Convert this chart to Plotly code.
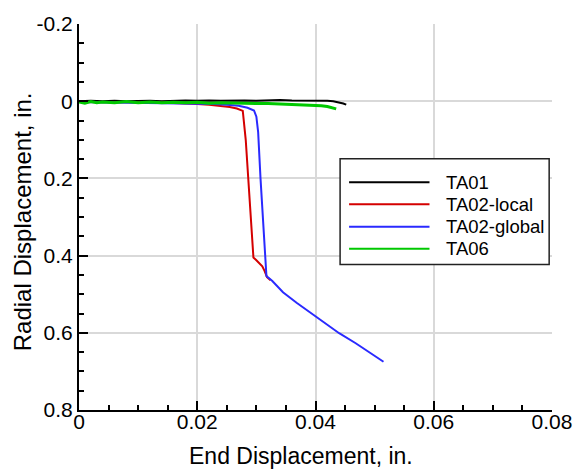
import plotly.graph_objects as go

# End displacement (in.) vs radial displacement (in.) for each test
ta01_x = [0.0, 0.002, 0.004, 0.006, 0.008, 0.010, 0.012, 0.014, 0.016, 0.018, 0.020,
          0.022, 0.024, 0.026, 0.028, 0.030, 0.032, 0.034, 0.036, 0.038, 0.040,
          0.042, 0.043, 0.044, 0.0447, 0.0452]
ta01_y = [0.0, -0.001, 0.0, -0.001, 0.0, -0.001, -0.001, 0.0, -0.001, -0.002, -0.001,
          -0.002, -0.001, -0.002, -0.002, -0.001, -0.002, -0.003, -0.002, -0.002, -0.002,
          -0.001, 0.0, 0.003, 0.006, 0.009]

ta02_local_x = [0.0, 0.005, 0.010, 0.015, 0.018, 0.020, 0.022, 0.024, 0.0255, 0.0267, 0.0277,
                0.0282, 0.0287, 0.0292, 0.0295, 0.0300, 0.0305, 0.0310, 0.0314, 0.0318, 0.0324]
ta02_local_y = [0.002, 0.002, 0.003, 0.004, 0.005, 0.007, 0.009, 0.012, 0.015, 0.019, 0.025,
                0.10, 0.22, 0.34, 0.405, 0.412, 0.420, 0.428, 0.440, 0.456, 0.464]

ta02_global_x = [0.0, 0.005, 0.010, 0.015, 0.020, 0.023, 0.025, 0.027, 0.0285, 0.0296,
                 0.0300, 0.0303, 0.0307, 0.0312, 0.0317, 0.0327, 0.0345, 0.0368, 0.0398,
                 0.0420, 0.0440, 0.0468, 0.0490, 0.0515]
ta02_global_y = [0.002, 0.003, 0.004, 0.004, 0.005, 0.007, 0.009, 0.012, 0.017, 0.024,
                 0.040, 0.080, 0.200, 0.340, 0.453, 0.466, 0.495, 0.522, 0.555,
                 0.578, 0.601, 0.627, 0.650, 0.675]

ta06_x = [0.0, 0.001, 0.002, 0.003, 0.004, 0.006, 0.008, 0.010, 0.012, 0.014, 0.016, 0.018,
          0.020, 0.022, 0.024, 0.026, 0.028, 0.030, 0.032, 0.034, 0.036, 0.038, 0.040,
          0.041, 0.042, 0.043, 0.0435]
ta06_y = [0.002, 0.005, 0.001, 0.004, 0.002, 0.004, 0.001, 0.004, 0.002, 0.004, 0.003, 0.004,
          0.003, 0.005, 0.004, 0.005, 0.005, 0.006, 0.006, 0.007, 0.008, 0.009, 0.011,
          0.012, 0.014, 0.017, 0.020]

series = [
    ("TA01", ta01_x, ta01_y, "#000000", 2),
    ("TA02-local", ta02_local_x, ta02_local_y, "#d40000", 2),
    ("TA02-global", ta02_global_x, ta02_global_y, "#2a2aff", 2),
    ("TA06", ta06_x, ta06_y, "#00c800", 3),
]

x_ticks = [0, 0.02, 0.04, 0.06, 0.08]
x_ticktext = ["0", "0.02", "0.04", "0.06", "0.08"]
y_ticks = [-0.2, 0, 0.2, 0.4, 0.6, 0.8]
y_ticktext = ["-0.2", "0", "0.2", "0.4", "0.6", "0.8"]

FONT = "Liberation Sans, Arial, Helvetica, sans-serif"

fig = go.Figure()
for name, xs, ys, color, width in series:
    fig.add_trace(go.Scatter(x=xs, y=ys, mode="lines", name=name,
                             line=dict(color=color, width=width),
                             showlegend=False))

fig.update_layout(
    width=584, height=472,
    margin=dict(l=79, r=27, t=20, b=62),
    paper_bgcolor="white", plot_bgcolor="white",
    font=dict(family=FONT, color="black", size=21),
)

fig.update_xaxes(
    range=[0, 0.08],
    tickmode="array", tickvals=x_ticks, ticktext=x_ticktext,
    showgrid=True, gridcolor="#d9d9d9", gridwidth=2,
    showline=True, linecolor="black", linewidth=2,
    ticks="inside", ticklen=9, tickwidth=2, tickcolor="black",
    minor=dict(ticks="inside", dtick=0.005, tick0=0, ticklen=5, tickwidth=1.5,
               tickcolor="black", showgrid=False),
    zeroline=False,
    ticklabelstandoff=-8,
    tickfont=dict(size=21),
)

fig.update_yaxes(
    range=[0.8, -0.2],
    tickmode="array", tickvals=y_ticks, ticktext=y_ticktext,
    showgrid=True, gridcolor="#d9d9d9", gridwidth=2,
    showline=True, linecolor="black", linewidth=2,
    ticks="inside", ticklen=9, tickwidth=2, tickcolor="black",
    minor=dict(ticks="inside", dtick=0.05, tick0=0, ticklen=5, tickwidth=1.5,
               tickcolor="black", showgrid=False),
    zeroline=False,
    tickfont=dict(size=21),
)

# Axis titles
fig.add_annotation(xref="paper", yref="paper", x=0.469, y=-0.118,
                   text="End Displacement, in.", showarrow=False,
                   xanchor="center", yanchor="middle",
                   font=dict(size=23, family=FONT, color="black"))
fig.add_annotation(xref="paper", yref="paper", x=-0.120, y=0.487,
                   text="Radial Displacement, in.", showarrow=False, textangle=-90,
                   xanchor="center", yanchor="middle",
                   font=dict(size=24, family=FONT, color="black"))

# Boxed legend with long line samples
box_x0, box_x1 = 0.552, 0.994
box_y0, box_y1 = 0.377, 0.651
fig.add_shape(type="rect", xref="paper", yref="paper",
              x0=box_x0, x1=box_x1, y0=box_y0, y1=box_y1,
              line=dict(color="#222222", width=1.5), fillcolor="white", layer="above")
row_y = [0.590, 0.533, 0.475, 0.418]
for (name, _, _, color, _), ry in zip(series, row_y):
    fig.add_shape(type="line", xref="paper", yref="paper",
                  x0=0.571, x1=0.741, y0=ry, y1=ry,
                  line=dict(color=color, width=2), layer="above")
    fig.add_annotation(xref="paper", yref="paper", x=0.772, y=ry,
                       text=name, showarrow=False, xanchor="left", yanchor="middle",
                       font=dict(size=18.5, family=FONT, color="black"))

fig.write_html("out.html")
